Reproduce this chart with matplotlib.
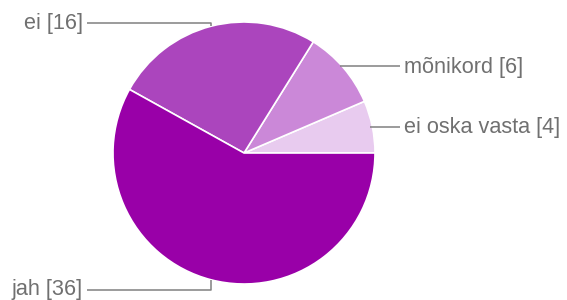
import numpy as np
import matplotlib
matplotlib.use('Agg')
import matplotlib.pyplot as plt

# survey answers (counterclockwise from 3 o'clock)
labels = ['ei oska vasta', 'mõnikord', 'ei', 'jah']
counts = [4, 6, 16, 36]
colors = ['#e8cbef', '#cb88d8', '#ab45bd', '#9900a8']

W, H = 567, 300
fig = plt.figure(figsize=(W / 100, H / 100), dpi=100)
ax = fig.add_axes([0, 0, 1, 1])

cx, cy, r = 244, H - 153, 131
wedges, _ = ax.pie(counts, center=(cx, cy), radius=r, startangle=0,
                   colors=colors, frame=True,
                   wedgeprops=dict(edgecolor='white', linewidth=1.2))
ax.set_xlim(0, W)
ax.set_ylim(0, H)
ax.set_aspect('equal')
ax.axis('off')

line_c = '#808080'
text_c = '#707070'
fs = 15.6
# label line y positions (pixels from top) and side
targets = {'ei oska vasta': (127, 'right'), 'mõnikord': (66, 'right'),
           'ei': (23, 'left'), 'jah': (290, 'left')}

for w, lab, n in zip(wedges, labels, counts):
    mid = np.deg2rad((w.theta1 + w.theta2) / 2)
    ex = cx + r * np.cos(mid)
    ey = cy + r * np.sin(mid)
    ty, side = targets[lab]
    ty = H - ty
    txt = f'{lab} [{n}]'
    if side == 'right':
        sx = cx + np.sqrt(r ** 2 - (ty - cy) ** 2) - 2
        ax.plot([sx, 400], [ty, ty], color=line_c, lw=1.1,
                solid_capstyle='butt')
        ax.text(404, ty - 1, txt, color=text_c, fontsize=fs,
                family='Liberation Sans', ha='left', va='center')
    else:
        ax.plot([ex, ex, 87], [ey, ty, ty], color=line_c, lw=1.1,
                solid_capstyle='butt')
        dy = 1 if lab == 'jah' else -1
        ax.text(83, ty + dy, txt, color=text_c, fontsize=fs,
                family='Liberation Sans', ha='right', va='center')

fig.savefig('out.png', dpi=100)
